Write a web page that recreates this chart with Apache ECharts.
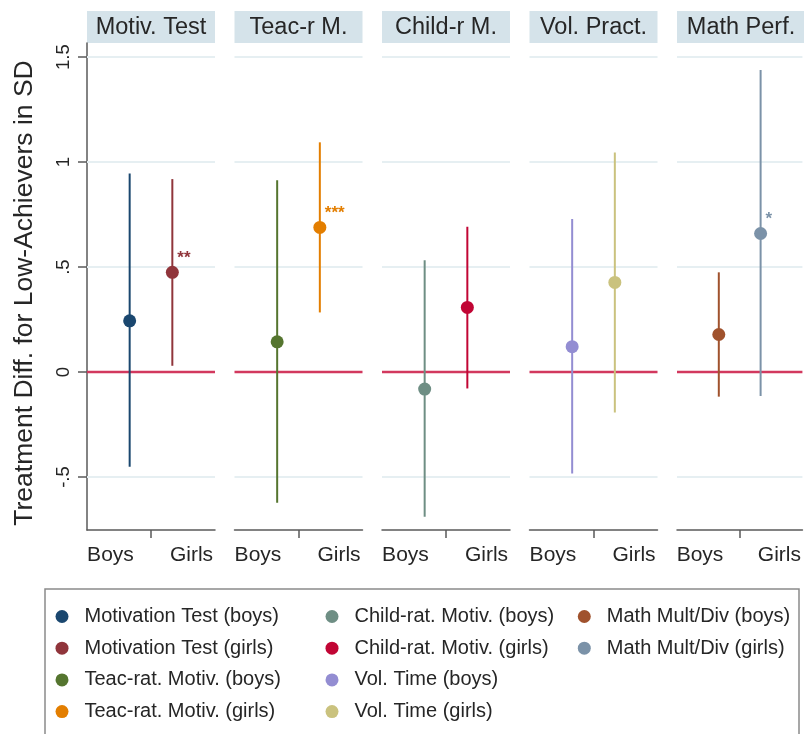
<!DOCTYPE html>
<html>
<head>
<meta charset="utf-8">
<script src="https://cdn.jsdelivr.net/npm/echarts@6/dist/echarts.min.js"></script>
<style>
  html, body { margin: 0; padding: 0; background: #ffffff; }
  #chart { width: 804px; height: 734px; }
</style>
</head>
<body>
<div id="chart"></div>
<script>
// Panel headings (one panel per outcome)
const panelTitles = ['Motiv. Test', 'Teac-r M.', 'Child-r M.', 'Vol. Pract.', 'Math Perf.'];

// One estimate per outcome and gender
const seriesNames = [
  'Motivation Test (boys)', 'Motivation Test (girls)',
  'Teac-rat. Motiv. (boys)', 'Teac-rat. Motiv. (girls)',
  'Child-rat. Motiv. (boys)', 'Child-rat. Motiv. (girls)',
  'Vol. Time (boys)', 'Vol. Time (girls)',
  'Math Mult/Div (boys)', 'Math Mult/Div (girls)'
];
const seriesPanel = [0, 0, 1, 1, 2, 2, 3, 3, 4, 4];
const seriesX = [1, 2, 1, 2, 1, 2, 1, 2, 1, 2];
const estimates = [0.244, 0.475, 0.144, 0.689, -0.081, 0.308, 0.121, 0.427, 0.179, 0.660];
const ciLower = [-0.451, 0.030, -0.622, 0.284, -0.689, -0.078, -0.483, -0.192, -0.117, -0.114];
const ciUpper = [0.946, 0.919, 0.914, 1.094, 0.533, 0.692, 0.729, 1.046, 0.475, 1.438];
const stars = ['', '**', '', '***', '', '', '', '', '', '*'];
const seriesColors = [
  '#1a476f', '#90353b', '#55752f', '#e37e00', '#6e8e84',
  '#c10534', '#938dd2', '#cac27e', '#a0522d', '#7b92a8'
];

// Axis ticks and labels
const yTickValues = [-0.5, 0, 0.5, 1, 1.5];
const yTickLabels = ['-.5', '0', '.5', '1', '1.5'];
const yGridValues = [-0.5, 0.5, 1, 1.5];
const yZero = [0];
const xLabelValues = [0.55, 2.45];
const xLabelTexts = ['Boys', 'Girls'];
const xTickValues = [1.5];

// Legend columns (indices into seriesNames)
const legendColumns = [[0, 1, 2, 3], [4, 5, 6, 7], [8, 9]];

// ---- layout ----
const FONT = '"Liberation Sans", Arial, Helvetica, sans-serif';
const panelLeft0 = 87, panelStep = 147.5, panelWidth = 128;
const plotTop = 43, plotBottom = 530;
const stripTop = 11, stripH = 32;
const yMin = -0.752, yMax = 1.567;
const axisColor = '#5a5a5a';
const textColor = '#262626';

const chart = echarts.init(document.getElementById('chart'), null, { renderer: 'canvas' });

const grids = [], xAxes = [], yAxes = [], series = [], graphics = [];

function labelFor(values, texts, v) {
  for (let i = 0; i < values.length; i++) if (Math.abs(values[i] - v) < 1e-9) return texts[i];
  return '';
}

panelTitles.forEach((title, p) => {
  const left = panelLeft0 + p * panelStep;
  grids.push({ left: left, top: plotTop, width: panelWidth, height: plotBottom - plotTop, containLabel: false });
  xAxes.push({
    gridIndex: p, type: 'value', min: 0, max: 3, position: 'bottom',
    axisLine: { show: true, onZero: false, lineStyle: { color: axisColor, width: 1.5 } },
    axisTick: { show: true, customValues: xTickValues, length: 8, lineStyle: { color: axisColor, width: 1.5 } },
    axisLabel: {
      show: true, customValues: xLabelValues, margin: 15,
      fontFamily: FONT, fontSize: 21, color: textColor,
      formatter: v => labelFor(xLabelValues, xLabelTexts, v)
    },
    splitLine: { show: false }
  });
  const first = p === 0;
  yAxes.push({
    gridIndex: p, type: 'value', min: yMin, max: yMax, position: 'left',
    axisLine: { show: first, onZero: false, lineStyle: { color: axisColor, width: 1.5 } },
    axisTick: { show: first, customValues: yTickValues, length: 9, lineStyle: { color: axisColor, width: 1.5 } },
    axisLabel: {
      show: first, customValues: yTickValues, rotate: 90, margin: 14,
      fontFamily: FONT, fontSize: 18.5, color: textColor,
      formatter: v => labelFor(yTickValues, yTickLabels, v)
    },
    splitLine: { show: false }
  });

  // horizontal reference lines drawn through the axis scales
  const hLine = (values, color, width, z) => ({
    type: 'custom', xAxisIndex: p, yAxisIndex: p, silent: true, z: z,
    data: values.map(v => [v]),
    renderItem: (params, api) => {
      const a = api.coord([0, api.value(0)]);
      const b = api.coord([3, api.value(0)]);
      return { type: 'line', shape: { x1: a[0], y1: a[1], x2: b[0], y2: b[1] },
               style: { stroke: color, lineWidth: width } };
    }
  });
  series.push(hLine(yGridValues, '#e6eff2', 2, 1));
  series.push(hLine(yZero, '#d2385e', 2.5, 2));

  // panel heading strip
  graphics.push({
    type: 'rect', shape: { x: left, y: stripTop, width: panelWidth, height: stripH },
    style: { fill: '#d5e3ea' }, silent: true
  });
  graphics.push({
    type: 'text', x: left + panelWidth / 2, y: stripTop + stripH / 2 + 1,
    style: { text: title, fontFamily: FONT, fontSize: 23.5, fill: textColor,
             textAlign: 'center', textVerticalAlign: 'middle' }, silent: true
  });
});

// estimates with confidence intervals
seriesNames.forEach((name, i) => {
  const color = seriesColors[i];
  const star = stars[i];
  series.push({
    type: 'custom', name: name,
    xAxisIndex: seriesPanel[i], yAxisIndex: seriesPanel[i], z: 5,
    itemStyle: { color: color },
    data: [[seriesX[i], estimates[i], ciLower[i], ciUpper[i]]],
    renderItem: (params, api) => {
      const x = api.value(0);
      const pt = api.coord([x, api.value(1)]);
      const lo = api.coord([x, api.value(2)]);
      const hi = api.coord([x, api.value(3)]);
      const children = [
        { type: 'line', shape: { x1: lo[0], y1: lo[1], x2: hi[0], y2: hi[1] },
          style: { stroke: color, lineWidth: 2 } },
        { type: 'circle', shape: { cx: pt[0], cy: pt[1], r: 6.5 }, style: { fill: color } }
      ];
      if (star) {
        children.push({ type: 'text', x: pt[0] + 5, y: pt[1] - 14,
          style: { text: star, fontFamily: FONT, fontSize: 17, fontWeight: 'bold', fill: color,
                   textAlign: 'left', textVerticalAlign: 'middle' } });
      }
      return { type: 'group', children: children };
    }
  });
});

// y axis title
graphics.push({
  type: 'text', x: 25, y: 293, rotation: Math.PI / 2,
  style: { text: 'Treatment Diff. for Low-Achievers in SD', fontFamily: FONT, fontSize: 26.5,
           fill: textColor, textAlign: 'center', textVerticalAlign: 'middle' }, silent: true
});

// legend frame
graphics.push({
  type: 'rect', shape: { x: 45, y: 589, width: 754, height: 170 },
  style: { fill: 'none', stroke: '#8a8a8a', lineWidth: 1.5 }, silent: true
});

const legendLefts = [55.5, 325.5, 577.8];
const legends = legendColumns.map((idx, c) => ({
  orient: 'vertical', left: legendLefts[c], top: 606.5,
  data: idx.map(i => seriesNames[i]), icon: 'circle',
  itemWidth: 13, itemHeight: 13, itemGap: 11.7, selectedMode: false,
  padding: 0,
  textStyle: { fontFamily: FONT, fontSize: 20, color: textColor, lineHeight: 20,
               padding: [0, 0, 0, 11] }
}));

chart.setOption({
  backgroundColor: '#ffffff',
  animation: false,
  grid: grids, xAxis: xAxes, yAxis: yAxes,
  legend: legends,
  graphic: graphics,
  series: series
});
</script>
</body>
</html>
